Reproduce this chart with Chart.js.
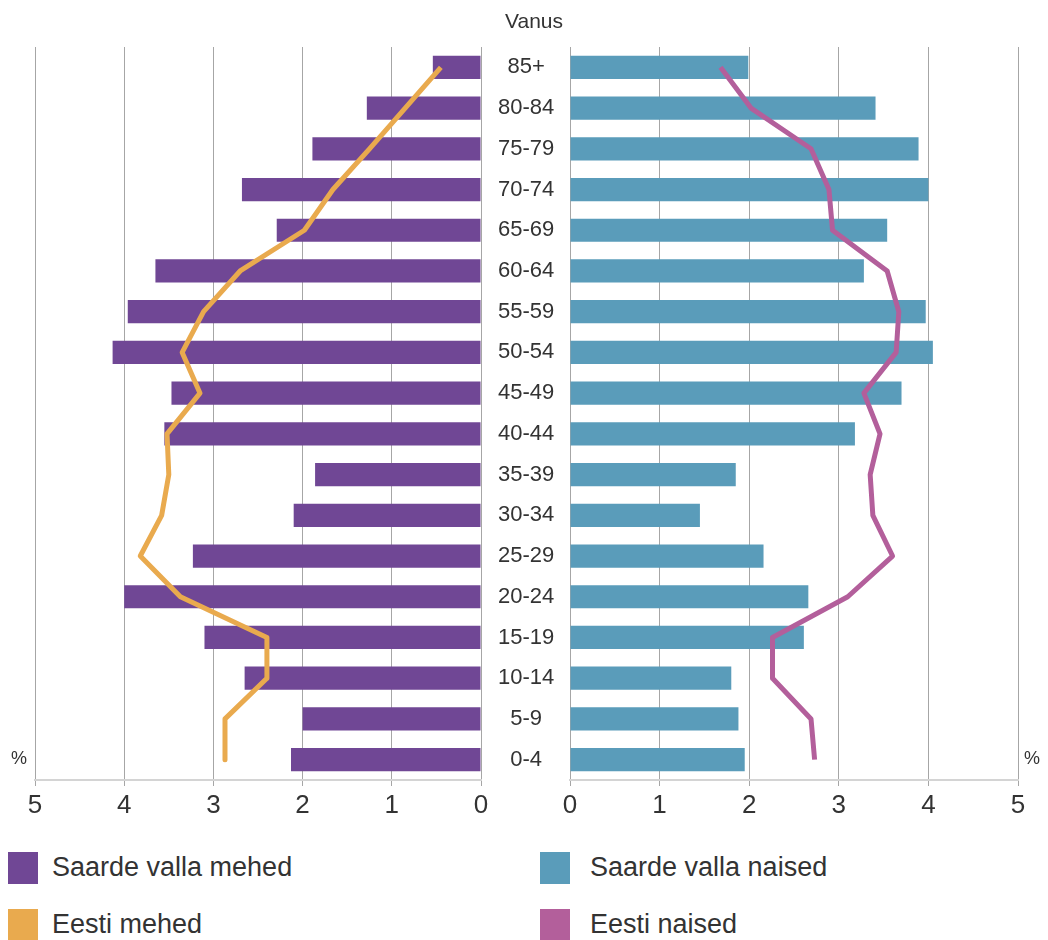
<!DOCTYPE html>
<html>
<head>
<meta charset="utf-8">
<script src="https://cdn.jsdelivr.net/npm/chart.js@4"></script>
<style>
  body { margin: 0; background: #fff; font-family: "Liberation Sans", Arial, sans-serif; color: #333; }
  #wrap { position: relative; width: 1048px; height: 940px; overflow: hidden; }
  canvas { position: absolute; top: 0; }
  .txt { position: absolute; white-space: nowrap; color: #333; }
  .sw { position: absolute; width: 30px; height: 32px; }
</style>
</head>
<body>
<div id="wrap">
  <canvas id="vasak" style="left:0" width="570" height="830"></canvas>
  <canvas id="parem" style="left:540px" width="508" height="830"></canvas>
  <div class="txt" style="left:505px; top:9px; font-size:21px;">Vanus</div>
  <div class="txt" style="left:11px; top:748px; font-size:18px;">%</div>
  <div class="txt" style="left:1024px; top:748px; font-size:18px;">%</div>

  <div class="sw" style="left:8px; top:852px; background:#704795"></div>
  <div class="txt" style="left:52px; top:852px; font-size:27px;">Saarde valla mehed</div>
  <div class="sw" style="left:8px; top:909px; background:#e9aa4e"></div>
  <div class="txt" style="left:52px; top:909px; font-size:27px;">Eesti mehed</div>
  <div class="sw" style="left:540px; top:852px; background:#5a9cba"></div>
  <div class="txt" style="left:590px; top:852px; font-size:27px;">Saarde valla naised</div>
  <div class="sw" style="left:540px; top:909px; background:#b35f9b"></div>
  <div class="txt" style="left:590px; top:909px; font-size:27px;">Eesti naised</div>
</div>
<script>
// vanuserühmad ülevalt alla
const vanused = ["85+", "80-84", "75-79", "70-74", "65-69", "60-64", "55-59", "50-54", "45-49",
  "40-44", "35-39", "30-34", "25-29", "20-24", "15-19", "10-14", "5-9", "0-4"];

const saardeMehed = [0.54, 1.28, 1.89, 2.68, 2.29, 3.65, 3.96, 4.13, 3.47, 3.55, 1.86, 2.10, 3.23, 4.00, 3.10, 2.65, 2.00, 2.13];
const eestiMehed = [0.45, 0.85, 1.25, 1.66, 1.98, 2.70, 3.11, 3.35, 3.15, 3.52, 3.50, 3.58, 3.82, 3.37, 2.40, 2.40, 2.87, 2.87];
const saardeNaised = [1.99, 3.41, 3.89, 4.00, 3.54, 3.28, 3.97, 4.05, 3.70, 3.18, 1.85, 1.45, 2.16, 2.66, 2.61, 1.80, 1.88, 1.95];
const eestiNaised = [1.68, 2.02, 2.69, 2.89, 2.93, 3.54, 3.67, 3.64, 3.28, 3.46, 3.35, 3.38, 3.60, 3.10, 2.26, 2.26, 2.69, 2.73];

const xTicks = [0, 1, 2, 3, 4, 5];

const fontPere = '"Liberation Sans", Arial, sans-serif';

function xTelg(tagurpidi) {
  return {
    type: 'linear',
    min: 0,
    max: 5,
    reverse: tagurpidi,
    afterBuildTicks: (s) => { s.ticks = xTicks.map(v => ({ value: v })); },
    afterFit: (s) => { s.height = 50; },
    grid: { color: '#a6a6a6', lineWidth: 1, tickLength: 6 },
    border: { display: true, color: '#d4d4d4', width: 2 },
    ticks: { color: '#333', padding: 4, font: { family: fontPere, size: 26 } }
  };
}

function andmestikud(baar, joon, baarVarv, joonVarv, nimi1, nimi2) {
  return [
    {
      type: 'line',
      label: nimi2,
      data: joon,
      borderColor: joonVarv,
      borderWidth: 5,
      pointRadius: 0,
      tension: 0,
      borderJoinStyle: 'round',
      order: 0
    },
    {
      type: 'bar',
      label: nimi1,
      data: baar,
      backgroundColor: baarVarv,
      barPercentage: 0.57,
      categoryPercentage: 1,
      order: 1
    }
  ];
}

const yhine = {
  indexAxis: 'y',
  responsive: false,
  animation: false,
  plugins: { legend: { display: false }, tooltip: { enabled: false } }
};

new Chart(document.getElementById('vasak').getContext('2d'), {
  data: {
    labels: vanused,
    datasets: andmestikud(saardeMehed, eestiMehed, '#704795', '#e9aa4e', 'Saarde valla mehed', 'Eesti mehed')
  },
  options: Object.assign({}, yhine, {
    layout: { padding: { left: 35, top: 47, right: 0, bottom: 0 } },
    scales: {
      x: xTelg(true),
      y: {
        type: 'category',
        position: 'right',
        afterFit: (s) => { s.width = 89; },
        grid: { display: false, drawTicks: false },
        border: { display: false },
        ticks: { color: '#333', padding: 17, crossAlign: 'center', font: { family: fontPere, size: 22 } }
      }
    }
  })
});

new Chart(document.getElementById('parem').getContext('2d'), {
  data: {
    labels: vanused,
    datasets: andmestikud(saardeNaised, eestiNaised, '#5a9cba', '#b35f9b', 'Saarde valla naised', 'Eesti naised')
  },
  options: Object.assign({}, yhine, {
    layout: { padding: { left: 30, top: 47, right: 30, bottom: 0 } },
    scales: {
      x: xTelg(false),
      y: { type: 'category', display: false }
    }
  })
});
</script>
</body>
</html>
